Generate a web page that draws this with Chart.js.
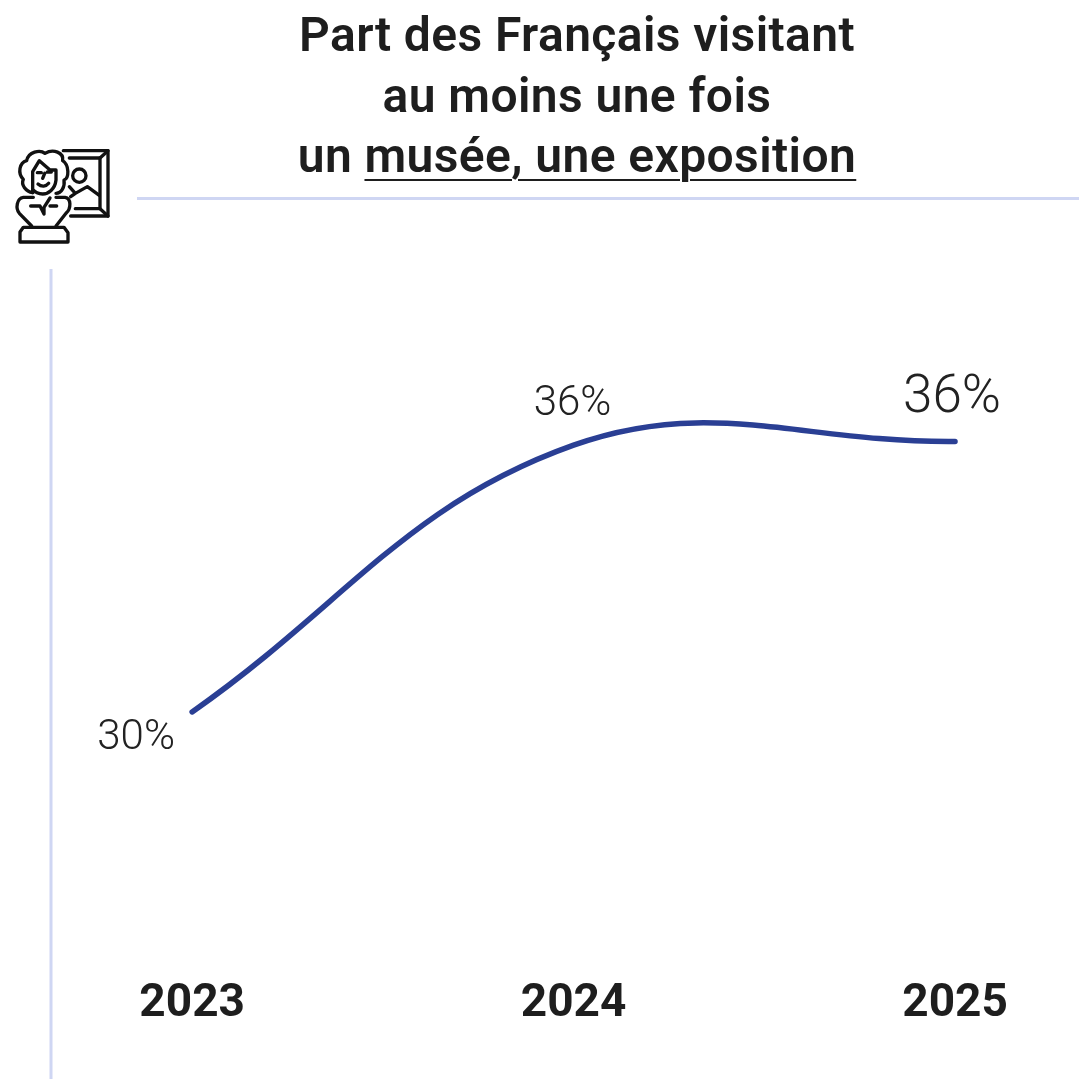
<!DOCTYPE html>
<html lang="fr">
<head>
<meta charset="utf-8">
<title>Part des Français visitant au moins une fois un musée, une exposition</title>
<script src="https://cdn.jsdelivr.net/npm/chart.js@4"></script>
<style>
  html, body { margin: 0; padding: 0; background: #fff; }
  #wrap { position: relative; width: 1079px; height: 1079px; overflow: hidden; }
  #myLineChart { position: absolute; left: 0; top: 0; }
  h1 {
    position: absolute; left: 0; top: 5px; width: 1154px; margin: 0;
    font: 600 48px/60.5px Roboto, sans-serif; letter-spacing: 0.4px; color: #1e1e1e; text-align: center;
  }
  h1 span { text-decoration: underline; text-decoration-thickness: 2px; text-underline-offset: 7px; }
  #rule { position: absolute; left: 137px; top: 197px; width: 942px; height: 3px; background: #cfd6f3; }
  #icon { position: absolute; left: 0; top: 130px; }
</style>
</head>
<body>
<div id="wrap">
  <canvas id="myLineChart" width="1079" height="1079"></canvas>
  <h1>Part des Français visitant<br>au moins une fois<br>un <span>musée, une exposition</span></h1>
  <div id="rule"></div>
  <svg id="icon" width="150" height="150" viewBox="0 0 450 450" fill="none" stroke="#111" stroke-width="10" stroke-linejoin="round" stroke-linecap="round">
    <!-- cadre -->
    <path d="M190 62H324V258H212"/>
    <path d="M208 84H300V236H226"/>
    <path d="M300 84L324 62M300 236L324 258"/>
    <circle cx="238" cy="137" r="20"/>
    <path d="M208 170L226 190L262 170L298 196M212 200L226 190"/>
    <!-- buste -->
    <path d="M98 188C78 185 62 165 70 148C52 130 58 98 80 92C85 65 120 58 135 70C160 55 192 68 188 92C208 105 208 145 192 150C195 170 185 190 168 190"/>
    <path d="M98 188V125L118 92L150 120H168V150C165 178 145 192 128 192C118 192 106 188 98 178"/>
    <path d="M114 162C125 172 138 170 146 160M112 128H124M142 126H154M134 130L128 145"/>
    <path d="M100 202H70C50 205 46 235 58 250L95 288M168 202H195C214 205 214 235 198 250L168 288"/>
    <path d="M92 228H120L132 252V232L150 204M150 228H170"/>
    <path d="M70 292H192L204 308V336H60V306Z"/>
  </svg>
</div>
<script>
var years = [2023, 2024, 2025];
var shares = [30, 36, 36.08];
var shareLabels = ['30%', '36%', '36%'];

// label placement and size, one entry per point
var labelStyles = [
  { dx: -56, dy: 27, size: 42 },
  { dx: -1, dy: -41, size: 42 },
  { dx: -3, dy: -43, size: 53 }
];

var pointLabels = {
  id: 'pointLabels',
  afterDatasetsDraw: function(chart) {
    var ctx = chart.ctx;
    var points = chart.getDatasetMeta(0).data;
    ctx.save();
    ctx.fillStyle = '#222';
    ctx.textAlign = 'center';
    ctx.textBaseline = 'middle';
    points.forEach(function(pt, i) {
      var st = labelStyles[i];
      ctx.font = '300 ' + st.size + 'px Roboto';
      ctx.fillText(shareLabels[i], pt.x + st.dx, pt.y + st.dy);
    });
    ctx.restore();
  }
};

// y axis line runs past the x labels, down to the bottom of the canvas
var axisLine = {
  id: 'axisLine',
  beforeDatasetsDraw: function(chart) {
    var ctx = chart.ctx;
    ctx.save();
    ctx.strokeStyle = '#cfd6f3';
    ctx.lineWidth = 3;
    ctx.beginPath();
    ctx.moveTo(chart.chartArea.left, chart.chartArea.top);
    ctx.lineTo(chart.chartArea.left, chart.height);
    ctx.stroke();
    ctx.restore();
  }
};

var ctx1 = document.getElementById('myLineChart').getContext('2d');
var myLineChart = new Chart(ctx1, {
  type: 'line',
  data: {
    datasets: [{
      data: years.map(function(y, i) { return { x: y, y: shares[i] }; }),
      borderColor: '#2a3f94',
      borderWidth: 5.5,
      borderCapStyle: 'round',
      tension: 0.4,
      pointRadius: 0,
      fill: false
    }]
  },
  options: {
    responsive: false,
    animation: false,
    layout: { padding: { top: 269, left: 0, right: 0, bottom: 0 } },
    plugins: { legend: { display: false }, tooltip: { enabled: false } },
    scales: {
      x: {
        type: 'linear',
        min: 2022.63,
        max: 2025.325,
        grid: { display: false },
        border: { display: false },
        afterBuildTicks: function(scale) {
          scale.ticks = years.map(function(y) { return { value: y }; });
        },
        afterFit: function(scale) { scale.height = 110; },
        ticks: {
          padding: 0,
          maxRotation: 0,
          autoSkip: false,
          color: '#1e1e1e',
          font: { family: 'Roboto', size: 46, weight: '700' },
          callback: function(v) { return String(v); }
        }
      },
      y: {
        min: 24.22,
        max: 39.96,
        grid: { display: false },
        ticks: { display: false },
        border: { display: false },
        afterFit: function(scale) { scale.width = 51; }
      }
    }
  },
  plugins: [pointLabels, axisLine]
});
</script>
</body>
</html>
